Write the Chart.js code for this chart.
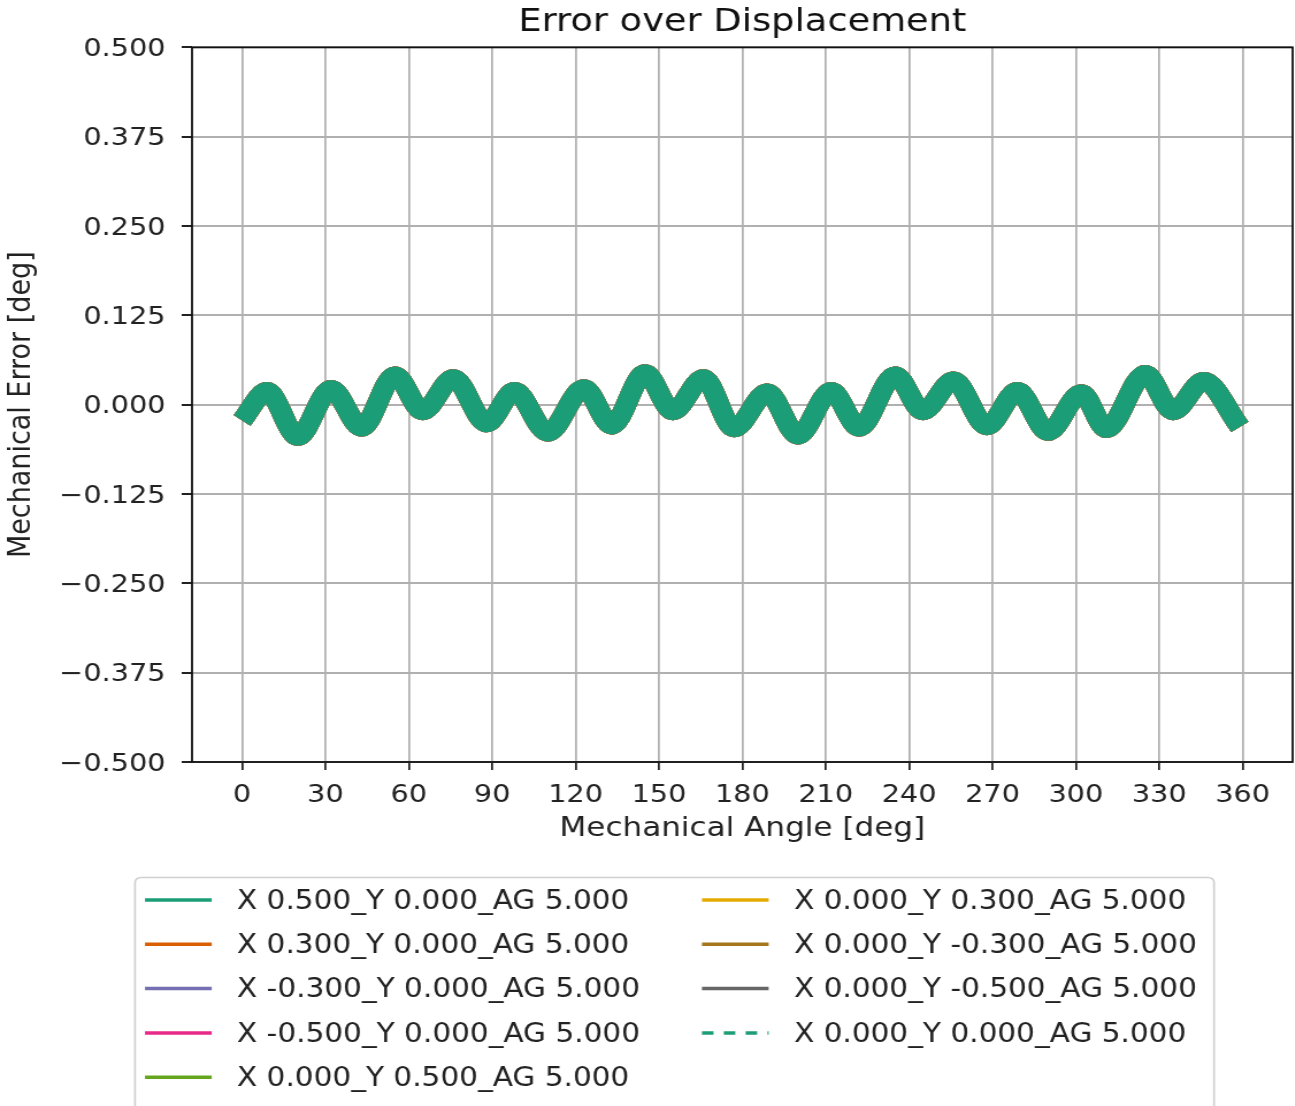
<!DOCTYPE html>
<html>
<head>
<meta charset="utf-8">
<title>Error over Displacement</title>
<script src="https://cdn.jsdelivr.net/npm/chart.js@4.4.1/dist/chart.umd.min.js"></script>
<style>
  html, body { margin: 0; padding: 0; background: #fff; overflow: hidden; }
  /* la figura original esta estirada en horizontal */
  #marco { width: 1126px; height: 1106px; transform: scaleX(1.15); transform-origin: 0 0; }
</style>
</head>
<body>
<div id="marco"><canvas id="graficoError" width="1126" height="1106"></canvas></div>
<script>
// Extremos de la curva (grados mecanicos / error en grados)
const angleDeg = [0, 9, 20, 32, 43, 55, 65, 76, 88, 98, 110, 123, 133, 145, 155, 166, 177,
  189, 200, 212, 222, 235, 245, 256, 268, 279, 290, 302, 311, 325, 335, 346, 359];
const errorDeg = [-0.022, 0.019, -0.045, 0.022, -0.032, 0.041, -0.009, 0.037, -0.026, 0.019, -0.039, 0.023, -0.029, 0.044, -0.009, 0.037, -0.033,
  0.017, -0.043, 0.019, -0.032, 0.041, -0.009, 0.034, -0.030, 0.019, -0.038, 0.016, -0.034, 0.043, -0.009, 0.033, -0.031];

const seriesNames = [
  "X 0.500_Y 0.000_AG 5.000",
  "X 0.300_Y 0.000_AG 5.000",
  "X -0.300_Y 0.000_AG 5.000",
  "X -0.500_Y 0.000_AG 5.000",
  "X 0.000_Y 0.500_AG 5.000",
  "X 0.000_Y 0.300_AG 5.000",
  "X 0.000_Y -0.300_AG 5.000",
  "X 0.000_Y -0.500_AG 5.000",
  "X 0.000_Y 0.000_AG 5.000"
];
const seriesColors = ["#1b9e77", "#d95f02", "#7570b3", "#e7298a", "#66a61e", "#e6ab02", "#a6761d", "#666666", "#1b9e77"];

const xTicks = [0, 30, 60, 90, 120, 150, 180, 210, 240, 270, 300, 330, 360];
const yTicks = [-0.5, -0.375, -0.25, -0.125, 0, 0.125, 0.25, 0.375, 0.5];

Chart.defaults.font.family = "'DejaVu Sans', sans-serif";
Chart.defaults.color = "#222";

// Marco negro alrededor del area de trazado
const bordeEjes = {
  id: "bordeEjes",
  afterDatasetsDraw(chart) {
    const { ctx, chartArea: a } = chart;
    ctx.save();
    ctx.strokeStyle = "#111";
    ctx.lineWidth = 1.8;
    ctx.strokeRect(a.left, a.top, a.right - a.left, a.bottom - a.top);
    ctx.restore();
  }
};

// Leyenda en dos columnas debajo del grafico
const leyendaAbajo = {
  id: "leyendaAbajo",
  afterDraw(chart) {
    const ctx = chart.ctx;
    ctx.save();
    ctx.fillStyle = "#fff";
    ctx.strokeStyle = "#d0d0d0";
    ctx.lineWidth = 1.7;
    ctx.beginPath();
    ctx.roundRect(117.4, 877.5, 938.3, 260, 5);
    ctx.fill();
    ctx.stroke();

    ctx.font = "25.7px 'DejaVu Sans'";
    ctx.textBaseline = "middle";
    chart.data.datasets.forEach((ds, i) => {
      const col = i < 5 ? 0 : 1;
      const fila = col ? i - 5 : i;
      const x0 = col ? 610.4 : 126.1;
      const y = 900 + fila * 44.3;
      ctx.strokeStyle = ds.borderColor;
      ctx.lineWidth = 3.5;
      ctx.setLineDash(ds.borderDash ? [10, 9] : []);
      ctx.beginPath();
      ctx.moveTo(x0, y);
      ctx.lineTo(x0 + 58, y);
      ctx.stroke();
      ctx.fillStyle = "#222";
      ctx.fillText(ds.label, x0 + 80, y + 2);
    });
    ctx.restore();
  }
};

const datasets = seriesNames.map((name, i) => ({
  label: name,
  data: angleDeg.map((a, k) => ({ x: a, y: errorDeg[k] })),
  borderColor: seriesColors[i],
  backgroundColor: seriesColors[i],
  borderWidth: 18,
  borderDash: i === 8 ? [24, 20] : undefined,
  borderJoinStyle: "round",
  pointRadius: 0,
  cubicInterpolationMode: "monotone",
  fill: false
}));

new Chart(document.getElementById("graficoError").getContext("2d"), {
  type: "line",
  data: { datasets },
  plugins: [bordeEjes, leyendaAbajo],
  options: {
    responsive: false,
    animation: false,
    layout: { padding: { left: 0, right: 2, top: 0, bottom: 261 } },
    plugins: {
      legend: { display: false },
      tooltip: { enabled: false },
      title: {
        display: true,
        fullSize: false,
        text: "Error over Displacement",
        font: { size: 32, weight: "normal" },
        color: "#111",
        padding: { top: 3, bottom: 6 }
      }
    },
    scales: {
      x: {
        type: "linear",
        min: -18,
        max: 378,
        afterBuildTicks: s => { s.ticks = xTicks.map(v => ({ value: v })); },
        afterFit: s => { s.height = 83; },
        grid: { color: "#b0b0b0", lineWidth: 1.75, tickLength: 8, tickColor: "#222", tickWidth: 1.75 },
        border: { display: false },
        ticks: { font: { size: 25 }, color: "#222", padding: 10, maxRotation: 0, autoSkip: false },
        title: { display: true, text: "Mechanical Angle [deg]", font: { size: 27 }, color: "#222", padding: { top: 0, bottom: 0 } }
      },
      y: {
        type: "linear",
        min: -0.5,
        max: 0.5,
        afterBuildTicks: s => { s.ticks = yTicks.map(v => ({ value: v })); },
        afterFit: s => { s.width = 167; },
        grid: { color: "#b0b0b0", lineWidth: 2, tickLength: 9, tickColor: "#222", tickWidth: 2 },
        border: { display: false },
        ticks: {
          font: { size: 25 },
          color: "#222",
          padding: 14,
          labelOffset: 2,
          callback: v => v.toFixed(3).replace("-", "\u2212")
        },
        title: { display: true, text: "Mechanical Error [deg]", font: { size: 27 }, color: "#222", padding: { top: 3, bottom: 0 } }
      }
    }
  }
});
</script>
</body>
</html>
